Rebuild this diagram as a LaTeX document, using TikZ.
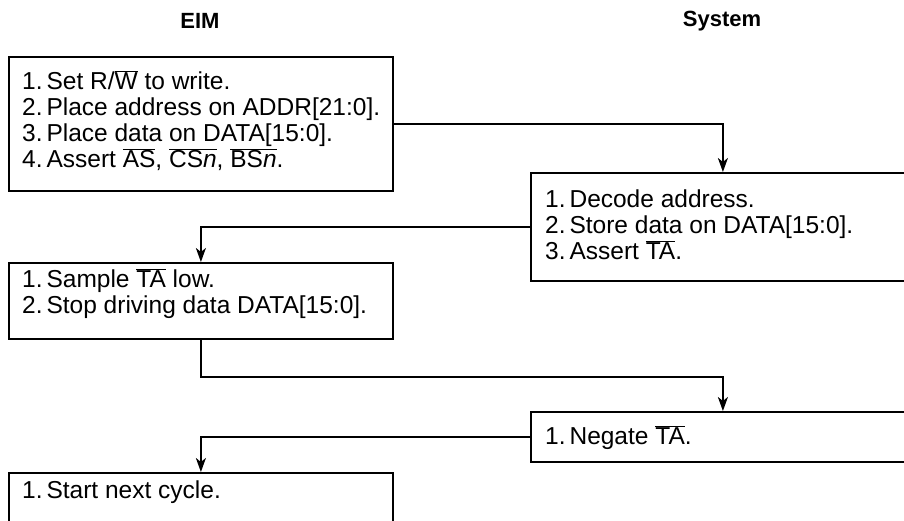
\documentclass[tikz,border=0pt]{standalone}
\usepackage{fontspec}
\setmainfont{Liberation Sans}
\usetikzlibrary{arrows.meta,calc}

% signal names with an active-low bar
\newcommand{\lowsig}[1]{\ensuremath{\overline{\mbox{#1}}}}
% step number followed by a narrow gap
\newcommand{\stepno}[1]{#1.\hspace{0.16em}}

\tikzset{
  stepbox/.style={draw, line width=1.8pt, minimum width=384pt, anchor=north west,
    inner sep=0pt, fill=white},
  steptext/.style={anchor=base west, inner sep=0pt,
    font=\fontsize{24.5}{26}\selectfont},
  header/.style={font=\fontsize{22}{24}\selectfont\bfseries, inner sep=0pt},
  flow/.style={line width=1.8pt, -{Stealth[length=14pt,width=10pt,inset=4pt]}},
}

\begin{document}
\begin{tikzpicture}[x=1pt,y=-1pt]
  \useasboundingbox (0,0) rectangle (904,520);
  \clip (0,0) rectangle (904,520);

  % column headers
  \node[header] (hEIM) at (200,21) {EIM};
  \node[header] (hSys) at (722,21) {System};

  % step boxes
  \node[stepbox, minimum height=134pt] (b1) at (8,56) {};
  \node[stepbox, minimum height=108pt] (b2) at (530,172) {};
  \node[stepbox, minimum height=76pt]  (b3) at (8,262) {};
  \node[stepbox, minimum height=50pt]  (b4) at (530,411) {};
  \node[stepbox, minimum height=70pt]  (b5) at (8,472) {};

  % box contents
  \node[steptext] (t1) at ($(b1.north west)+(14,33)$) {\begin{tabular}[t]{@{}l@{}}
    \stepno{1}Set R/\lowsig{W} to write.\\
    \stepno{2}Place address on ADDR[21:0].\\
    \stepno{3}Place data on DATA[15:0].\\
    \stepno{4}Assert \lowsig{AS}, \lowsig{CS\textit{n}}, \lowsig{BS\textit{n}}.
  \end{tabular}};
  \node[steptext] (t2) at ($(b2.north west)+(15,35)$) {\begin{tabular}[t]{@{}l@{}}
    \stepno{1}Decode address.\\
    \stepno{2}Store data on DATA[15:0].\\
    \stepno{3}Assert \lowsig{TA}.
  \end{tabular}};
  \node[steptext] (t3) at ($(b3.north west)+(14,25)$) {\begin{tabular}[t]{@{}l@{}}
    \stepno{1}Sample \lowsig{TA} low.\\
    \stepno{2}Stop driving data DATA[15:0].
  \end{tabular}};
  \node[steptext] (t4) at ($(b4.north west)+(15,33)$) {\stepno{1}Negate \lowsig{TA}.};
  \node[steptext] (t5) at ($(b5.north west)+(14,26)$) {\stepno{1}Start next cycle.};

  % hand-offs between EIM and system
  \draw[flow] (b1.east) -| (b2.north);
  \draw[flow] (b2.west) -| (b3.north);
  \draw[flow] (b3.south) -- ++(0,37) -| (b4.north);
  \draw[flow] (b4.west) -| (b5.north);
\end{tikzpicture}
\end{document}
